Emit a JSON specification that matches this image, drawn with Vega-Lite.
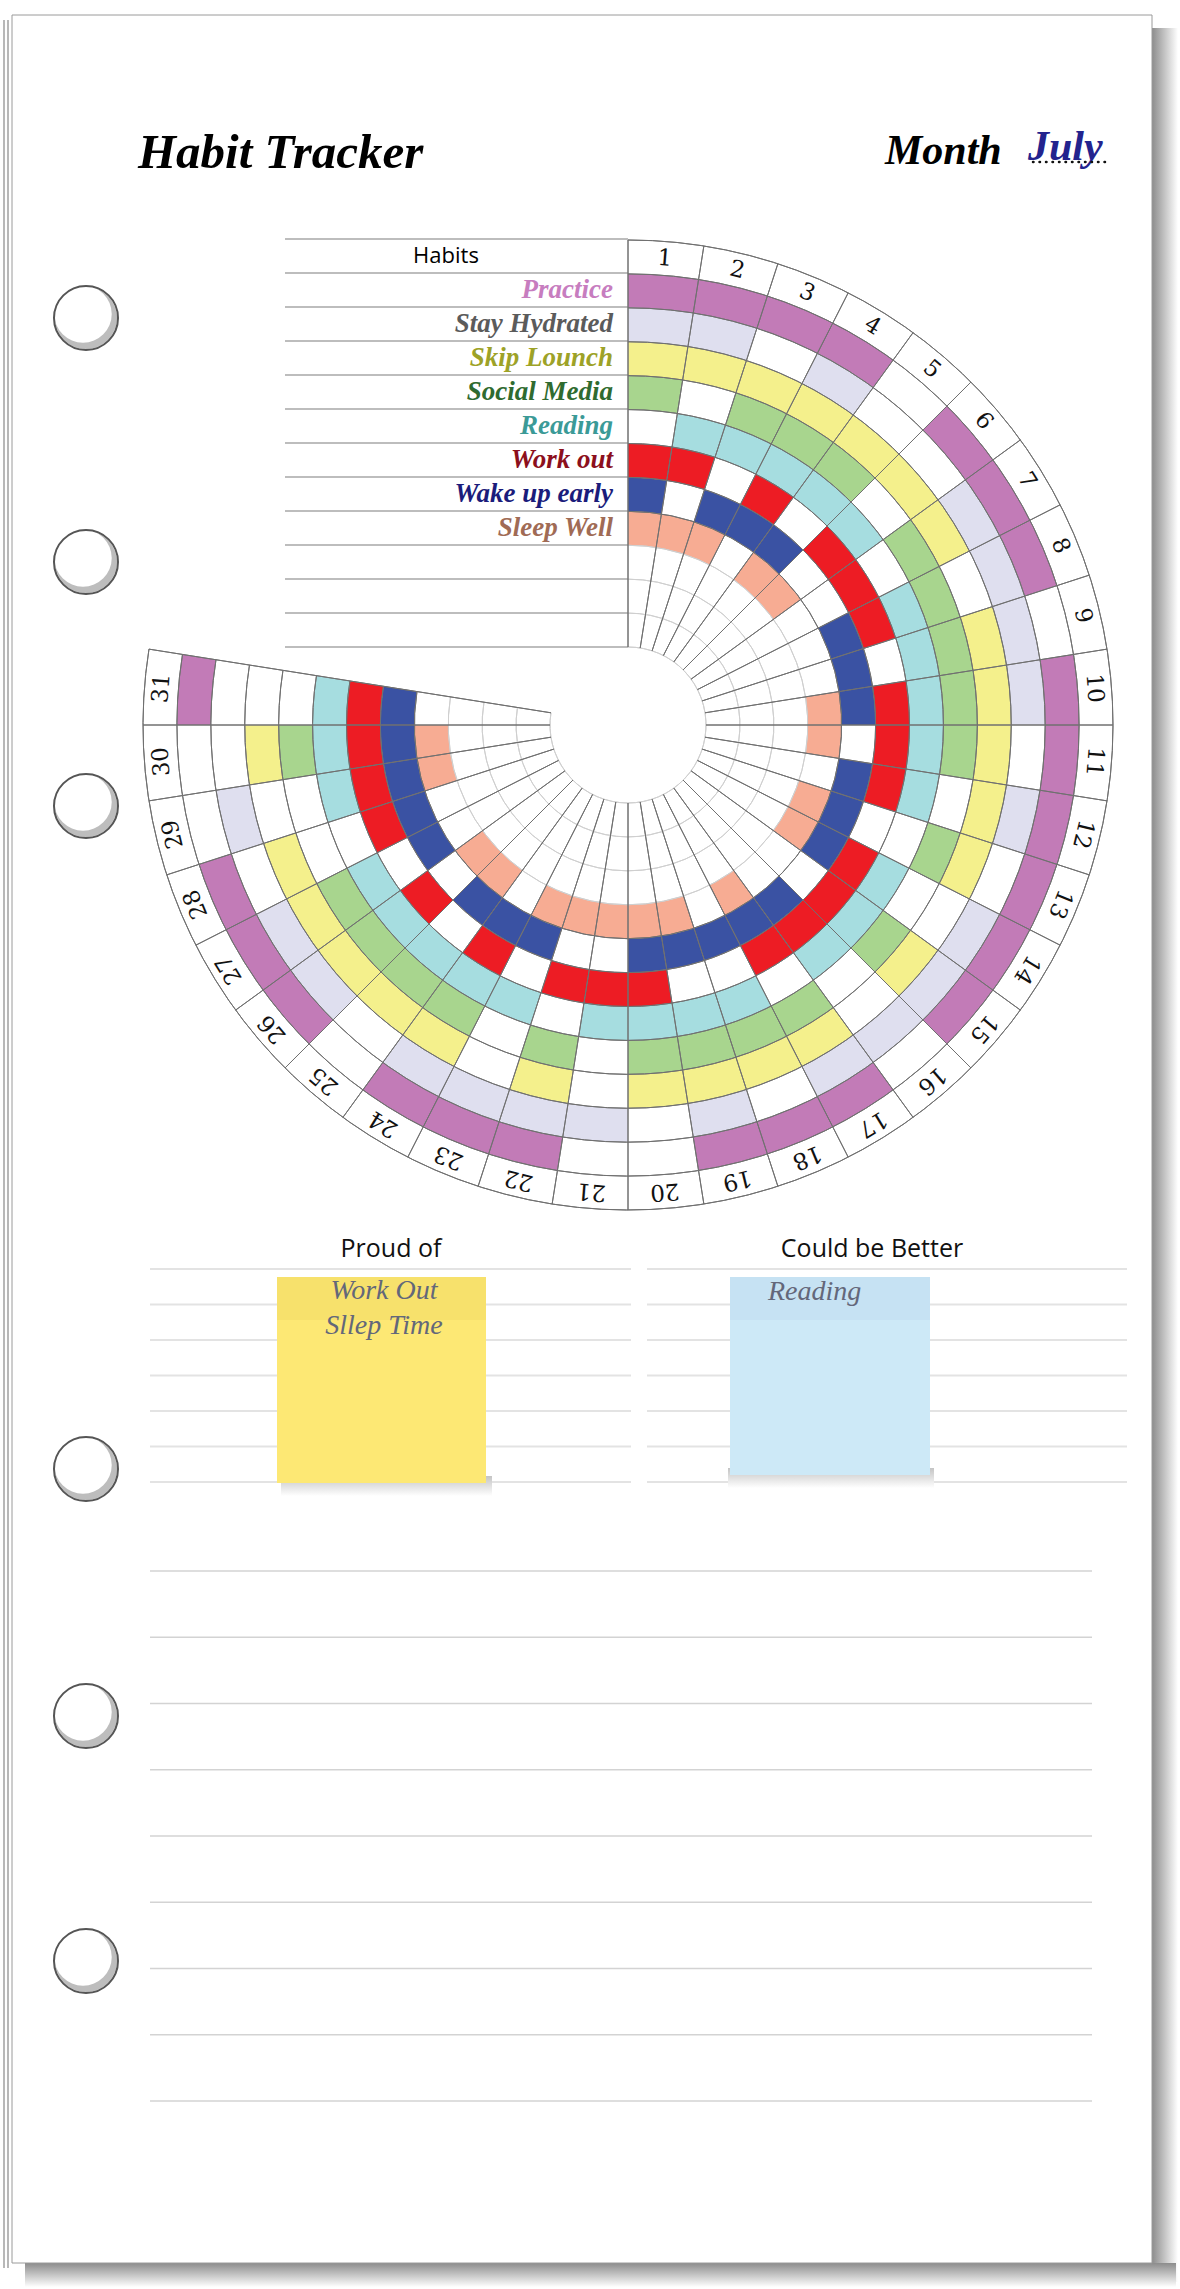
{
"$schema":"https://vega.github.io/schema/vega-lite/v6.json",
"width":1180,"height":2289,"padding":0,
"autosize":{"type":"fit","contains":"padding"},
"background":"#ffffff",
"config":{"view":{"stroke":null}},
"resolve":{"scale":{"x":"independent","y":"independent","theta":"independent","radius":"independent","color":"independent","angle":"independent"}},
"datasets":{
"habits":[{"habit":"Practice","order":1},{"habit":"Stay Hydrated","order":2},{"habit":"Skip Lounch","order":3},{"habit":"Social Media","order":4},{"habit":"Reading","order":5},{"habit":"Work out","order":6},{"habit":"Wake up early","order":7},{"habit":"Sleep Well","order":8}],
"circles":[{"edge":0},{"edge":1},{"edge":2},{"edge":3},{"edge":4},{"edge":5},{"edge":6},{"edge":7},{"edge":8},{"edge":9},{"edge":10},{"edge":11},{"edge":12}],
"spokes":[{"edge":1},{"edge":2},{"edge":3},{"edge":4},{"edge":5},{"edge":6},{"edge":7},{"edge":8},{"edge":9},{"edge":10},{"edge":11},{"edge":12},{"edge":13},{"edge":14},{"edge":15},{"edge":16},{"edge":17},{"edge":18},{"edge":19},{"edge":20},{"edge":21},{"edge":22},{"edge":23},{"edge":24},{"edge":25},{"edge":26},{"edge":27},{"edge":28},{"edge":29},{"edge":30},{"edge":31},{"edge":32}],
"tableLines":[{"line":0},{"line":1},{"line":2},{"line":3},{"line":4},{"line":5},{"line":6},{"line":7},{"line":8},{"line":9},{"line":10},{"line":11},{"line":12}],
"noteLines":[{"line":1},{"line":2},{"line":3},{"line":4},{"line":5},{"line":6},{"line":7}],
"pageLines":[{"line":1},{"line":2},{"line":3},{"line":4},{"line":5},{"line":6},{"line":7},{"line":8},{"line":9}],
"holes":[{"hole":1},{"hole":2},{"hole":3},{"hole":4},{"hole":5},{"hole":6}],
"cells":[
{"day":1,"habit":"Practice","done":1},{"day":2,"habit":"Practice","done":1},{"day":3,"habit":"Practice","done":1},{"day":4,"habit":"Practice","done":1},{"day":5,"habit":"Practice","done":0},{"day":6,"habit":"Practice","done":1},{"day":7,"habit":"Practice","done":1},{"day":8,"habit":"Practice","done":1},{"day":9,"habit":"Practice","done":0},{"day":10,"habit":"Practice","done":1},{"day":11,"habit":"Practice","done":1},{"day":12,"habit":"Practice","done":1},{"day":13,"habit":"Practice","done":1},{"day":14,"habit":"Practice","done":1},{"day":15,"habit":"Practice","done":1},{"day":16,"habit":"Practice","done":0},{"day":17,"habit":"Practice","done":1},{"day":18,"habit":"Practice","done":1},{"day":19,"habit":"Practice","done":1},{"day":20,"habit":"Practice","done":0},{"day":21,"habit":"Practice","done":0},{"day":22,"habit":"Practice","done":1},{"day":23,"habit":"Practice","done":1},{"day":24,"habit":"Practice","done":1},{"day":25,"habit":"Practice","done":0},{"day":26,"habit":"Practice","done":1},{"day":27,"habit":"Practice","done":1},{"day":28,"habit":"Practice","done":1},{"day":29,"habit":"Practice","done":0},{"day":30,"habit":"Practice","done":0},{"day":31,"habit":"Practice","done":1},
{"day":1,"habit":"Stay Hydrated","done":1},{"day":2,"habit":"Stay Hydrated","done":1},{"day":3,"habit":"Stay Hydrated","done":0},{"day":4,"habit":"Stay Hydrated","done":1},{"day":5,"habit":"Stay Hydrated","done":0},{"day":6,"habit":"Stay Hydrated","done":0},{"day":7,"habit":"Stay Hydrated","done":1},{"day":8,"habit":"Stay Hydrated","done":1},{"day":9,"habit":"Stay Hydrated","done":1},{"day":10,"habit":"Stay Hydrated","done":1},{"day":11,"habit":"Stay Hydrated","done":0},{"day":12,"habit":"Stay Hydrated","done":1},{"day":13,"habit":"Stay Hydrated","done":0},{"day":14,"habit":"Stay Hydrated","done":1},{"day":15,"habit":"Stay Hydrated","done":1},{"day":16,"habit":"Stay Hydrated","done":1},{"day":17,"habit":"Stay Hydrated","done":1},{"day":18,"habit":"Stay Hydrated","done":0},{"day":19,"habit":"Stay Hydrated","done":1},{"day":20,"habit":"Stay Hydrated","done":0},{"day":21,"habit":"Stay Hydrated","done":1},{"day":22,"habit":"Stay Hydrated","done":1},{"day":23,"habit":"Stay Hydrated","done":1},{"day":24,"habit":"Stay Hydrated","done":1},{"day":25,"habit":"Stay Hydrated","done":0},{"day":26,"habit":"Stay Hydrated","done":1},{"day":27,"habit":"Stay Hydrated","done":1},{"day":28,"habit":"Stay Hydrated","done":0},{"day":29,"habit":"Stay Hydrated","done":1},{"day":30,"habit":"Stay Hydrated","done":0},{"day":31,"habit":"Stay Hydrated","done":0},
{"day":1,"habit":"Skip Lounch","done":1},{"day":2,"habit":"Skip Lounch","done":1},{"day":3,"habit":"Skip Lounch","done":1},{"day":4,"habit":"Skip Lounch","done":1},{"day":5,"habit":"Skip Lounch","done":1},{"day":6,"habit":"Skip Lounch","done":1},{"day":7,"habit":"Skip Lounch","done":1},{"day":8,"habit":"Skip Lounch","done":0},{"day":9,"habit":"Skip Lounch","done":1},{"day":10,"habit":"Skip Lounch","done":1},{"day":11,"habit":"Skip Lounch","done":1},{"day":12,"habit":"Skip Lounch","done":1},{"day":13,"habit":"Skip Lounch","done":1},{"day":14,"habit":"Skip Lounch","done":0},{"day":15,"habit":"Skip Lounch","done":1},{"day":16,"habit":"Skip Lounch","done":0},{"day":17,"habit":"Skip Lounch","done":1},{"day":18,"habit":"Skip Lounch","done":1},{"day":19,"habit":"Skip Lounch","done":1},{"day":20,"habit":"Skip Lounch","done":1},{"day":21,"habit":"Skip Lounch","done":0},{"day":22,"habit":"Skip Lounch","done":1},{"day":23,"habit":"Skip Lounch","done":0},{"day":24,"habit":"Skip Lounch","done":1},{"day":25,"habit":"Skip Lounch","done":1},{"day":26,"habit":"Skip Lounch","done":1},{"day":27,"habit":"Skip Lounch","done":1},{"day":28,"habit":"Skip Lounch","done":1},{"day":29,"habit":"Skip Lounch","done":0},{"day":30,"habit":"Skip Lounch","done":1},{"day":31,"habit":"Skip Lounch","done":0},
{"day":1,"habit":"Social Media","done":1},{"day":2,"habit":"Social Media","done":0},{"day":3,"habit":"Social Media","done":1},{"day":4,"habit":"Social Media","done":1},{"day":5,"habit":"Social Media","done":1},{"day":6,"habit":"Social Media","done":0},{"day":7,"habit":"Social Media","done":1},{"day":8,"habit":"Social Media","done":1},{"day":9,"habit":"Social Media","done":1},{"day":10,"habit":"Social Media","done":1},{"day":11,"habit":"Social Media","done":1},{"day":12,"habit":"Social Media","done":0},{"day":13,"habit":"Social Media","done":1},{"day":14,"habit":"Social Media","done":0},{"day":15,"habit":"Social Media","done":1},{"day":16,"habit":"Social Media","done":0},{"day":17,"habit":"Social Media","done":1},{"day":18,"habit":"Social Media","done":1},{"day":19,"habit":"Social Media","done":1},{"day":20,"habit":"Social Media","done":1},{"day":21,"habit":"Social Media","done":0},{"day":22,"habit":"Social Media","done":1},{"day":23,"habit":"Social Media","done":0},{"day":24,"habit":"Social Media","done":1},{"day":25,"habit":"Social Media","done":1},{"day":26,"habit":"Social Media","done":1},{"day":27,"habit":"Social Media","done":1},{"day":28,"habit":"Social Media","done":0},{"day":29,"habit":"Social Media","done":0},{"day":30,"habit":"Social Media","done":1},{"day":31,"habit":"Social Media","done":0},
{"day":1,"habit":"Reading","done":0},{"day":2,"habit":"Reading","done":1},{"day":3,"habit":"Reading","done":1},{"day":4,"habit":"Reading","done":1},{"day":5,"habit":"Reading","done":1},{"day":6,"habit":"Reading","done":1},{"day":7,"habit":"Reading","done":0},{"day":8,"habit":"Reading","done":1},{"day":9,"habit":"Reading","done":1},{"day":10,"habit":"Reading","done":1},{"day":11,"habit":"Reading","done":1},{"day":12,"habit":"Reading","done":1},{"day":13,"habit":"Reading","done":0},{"day":14,"habit":"Reading","done":1},{"day":15,"habit":"Reading","done":1},{"day":16,"habit":"Reading","done":1},{"day":17,"habit":"Reading","done":0},{"day":18,"habit":"Reading","done":1},{"day":19,"habit":"Reading","done":1},{"day":20,"habit":"Reading","done":1},{"day":21,"habit":"Reading","done":1},{"day":22,"habit":"Reading","done":0},{"day":23,"habit":"Reading","done":1},{"day":24,"habit":"Reading","done":1},{"day":25,"habit":"Reading","done":1},{"day":26,"habit":"Reading","done":1},{"day":27,"habit":"Reading","done":1},{"day":28,"habit":"Reading","done":0},{"day":29,"habit":"Reading","done":1},{"day":30,"habit":"Reading","done":1},{"day":31,"habit":"Reading","done":1},
{"day":1,"habit":"Work out","done":1},{"day":2,"habit":"Work out","done":1},{"day":3,"habit":"Work out","done":0},{"day":4,"habit":"Work out","done":1},{"day":5,"habit":"Work out","done":0},{"day":6,"habit":"Work out","done":1},{"day":7,"habit":"Work out","done":1},{"day":8,"habit":"Work out","done":1},{"day":9,"habit":"Work out","done":0},{"day":10,"habit":"Work out","done":1},{"day":11,"habit":"Work out","done":1},{"day":12,"habit":"Work out","done":1},{"day":13,"habit":"Work out","done":0},{"day":14,"habit":"Work out","done":1},{"day":15,"habit":"Work out","done":1},{"day":16,"habit":"Work out","done":1},{"day":17,"habit":"Work out","done":1},{"day":18,"habit":"Work out","done":0},{"day":19,"habit":"Work out","done":0},{"day":20,"habit":"Work out","done":1},{"day":21,"habit":"Work out","done":1},{"day":22,"habit":"Work out","done":1},{"day":23,"habit":"Work out","done":0},{"day":24,"habit":"Work out","done":1},{"day":25,"habit":"Work out","done":0},{"day":26,"habit":"Work out","done":1},{"day":27,"habit":"Work out","done":0},{"day":28,"habit":"Work out","done":1},{"day":29,"habit":"Work out","done":1},{"day":30,"habit":"Work out","done":1},{"day":31,"habit":"Work out","done":1},
{"day":1,"habit":"Wake up early","done":1},{"day":2,"habit":"Wake up early","done":0},{"day":3,"habit":"Wake up early","done":1},{"day":4,"habit":"Wake up early","done":1},{"day":5,"habit":"Wake up early","done":1},{"day":6,"habit":"Wake up early","done":0},{"day":7,"habit":"Wake up early","done":0},{"day":8,"habit":"Wake up early","done":1},{"day":9,"habit":"Wake up early","done":1},{"day":10,"habit":"Wake up early","done":1},{"day":11,"habit":"Wake up early","done":0},{"day":12,"habit":"Wake up early","done":1},{"day":13,"habit":"Wake up early","done":1},{"day":14,"habit":"Wake up early","done":1},{"day":15,"habit":"Wake up early","done":0},{"day":16,"habit":"Wake up early","done":1},{"day":17,"habit":"Wake up early","done":1},{"day":18,"habit":"Wake up early","done":1},{"day":19,"habit":"Wake up early","done":1},{"day":20,"habit":"Wake up early","done":1},{"day":21,"habit":"Wake up early","done":0},{"day":22,"habit":"Wake up early","done":0},{"day":23,"habit":"Wake up early","done":1},{"day":24,"habit":"Wake up early","done":1},{"day":25,"habit":"Wake up early","done":1},{"day":26,"habit":"Wake up early","done":0},{"day":27,"habit":"Wake up early","done":1},{"day":28,"habit":"Wake up early","done":1},{"day":29,"habit":"Wake up early","done":1},{"day":30,"habit":"Wake up early","done":1},{"day":31,"habit":"Wake up early","done":1},
{"day":1,"habit":"Sleep Well","done":1},{"day":2,"habit":"Sleep Well","done":1},{"day":3,"habit":"Sleep Well","done":1},{"day":4,"habit":"Sleep Well","done":0},{"day":5,"habit":"Sleep Well","done":1},{"day":6,"habit":"Sleep Well","done":1},{"day":7,"habit":"Sleep Well","done":0},{"day":8,"habit":"Sleep Well","done":0},{"day":9,"habit":"Sleep Well","done":0},{"day":10,"habit":"Sleep Well","done":1},{"day":11,"habit":"Sleep Well","done":1},{"day":12,"habit":"Sleep Well","done":0},{"day":13,"habit":"Sleep Well","done":1},{"day":14,"habit":"Sleep Well","done":1},{"day":15,"habit":"Sleep Well","done":0},{"day":16,"habit":"Sleep Well","done":0},{"day":17,"habit":"Sleep Well","done":1},{"day":18,"habit":"Sleep Well","done":0},{"day":19,"habit":"Sleep Well","done":1},{"day":20,"habit":"Sleep Well","done":1},{"day":21,"habit":"Sleep Well","done":1},{"day":22,"habit":"Sleep Well","done":1},{"day":23,"habit":"Sleep Well","done":1},{"day":24,"habit":"Sleep Well","done":0},{"day":25,"habit":"Sleep Well","done":1},{"day":26,"habit":"Sleep Well","done":1},{"day":27,"habit":"Sleep Well","done":0},{"day":28,"habit":"Sleep Well","done":0},{"day":29,"habit":"Sleep Well","done":1},{"day":30,"habit":"Sleep Well","done":1},{"day":31,"habit":"Sleep Well","done":0}
]},
"layer":[
{"data":{"values":[{}]},"mark":{"type":"rect","color":{"gradient":"linear","x1":0,"x2":1,"y1":0,"y2":0,"stops":[{"offset":0,"color":"#8c8c8c"},{"offset":1,"color":"#ffffff"}]}},
 "encoding":{"x":{"datum":1152,"type":"quantitative","scale":{"domain":[0,1180],"range":[0,1180],"nice":false,"zero":false},"axis":null},"x2":{"datum":1178},"y":{"datum":28,"type":"quantitative","scale":{"domain":[0,2289],"range":[0,2289],"nice":false,"zero":false},"axis":null},"y2":{"datum":2282}}},
{"data":{"values":[{}]},"mark":{"type":"rect","color":{"gradient":"linear","x1":0,"x2":0,"y1":0,"y2":1,"stops":[{"offset":0,"color":"#8c8c8c"},{"offset":1,"color":"#ffffff"}]}},
 "encoding":{"x":{"datum":25,"type":"quantitative","scale":{"domain":[0,1180],"range":[0,1180],"nice":false,"zero":false},"axis":null},"x2":{"datum":1176},"y":{"datum":2263,"type":"quantitative","scale":{"domain":[0,2289],"range":[0,2289],"nice":false,"zero":false},"axis":null},"y2":{"datum":2287}}},
{"data":{"values":[{}]},"mark":{"type":"rect","fill":"#ffffff","stroke":"#9a9a9a","strokeWidth":1},
 "encoding":{"x":{"datum":12,"type":"quantitative","scale":{"domain":[0,1180],"range":[0,1180],"nice":false,"zero":false},"axis":null},"x2":{"datum":1152},"y":{"datum":15,"type":"quantitative","scale":{"domain":[0,2289],"range":[0,2289],"nice":false,"zero":false},"axis":null},"y2":{"datum":2263}}},
{"data":{"values":[{"sheet":1},{"sheet":2}]},"mark":{"type":"rule","stroke":"#a0a0a0","strokeWidth":1.5},
 "encoding":{"x":{"field":"sheet","type":"quantitative","scale":{"domain":[1,2],"range":[4,8],"nice":false,"zero":false},"axis":null},"y":{"datum":20,"type":"quantitative","scale":{"domain":[0,2289],"range":[0,2289],"nice":false,"zero":false},"axis":null},"y2":{"datum":2268}}},
{"data":{"values":[{"label":"Habit Tracker"}]},"mark":{"type":"text","align":"left","baseline":"alphabetic","font":"Liberation Serif","fontStyle":"italic","fontWeight":"bold","fontSize":49,"color":"#000000"},
 "encoding":{"text":{"field":"label"},"x":{"datum":138,"type":"quantitative","scale":{"domain":[0,1180],"range":[0,1180],"nice":false,"zero":false},"axis":null},"y":{"datum":168,"type":"quantitative","scale":{"domain":[0,2289],"range":[0,2289],"nice":false,"zero":false},"axis":null}}},
{"data":{"values":[{"label":"Month"}]},"mark":{"type":"text","align":"left","baseline":"alphabetic","font":"Liberation Serif","fontStyle":"italic","fontWeight":"bold","fontSize":42,"color":"#000000"},
 "encoding":{"text":{"field":"label"},"x":{"datum":885,"type":"quantitative","scale":{"domain":[0,1180],"range":[0,1180],"nice":false,"zero":false},"axis":null},"y":{"datum":164,"type":"quantitative","scale":{"domain":[0,2289],"range":[0,2289],"nice":false,"zero":false},"axis":null}}},
{"data":{"values":[{"label":"July"}]},"mark":{"type":"text","align":"left","baseline":"alphabetic","font":"Liberation Serif","fontStyle":"italic","fontWeight":"bold","fontSize":42,"color":"#23238e"},
 "encoding":{"text":{"field":"label"},"x":{"datum":1028,"type":"quantitative","scale":{"domain":[0,1180],"range":[0,1180],"nice":false,"zero":false},"axis":null},"y":{"datum":160,"type":"quantitative","scale":{"domain":[0,2289],"range":[0,2289],"nice":false,"zero":false},"axis":null}}},
{"data":{"values":[{}]},"mark":{"type":"rule","stroke":"#111111","strokeWidth":2.5,"strokeDash":[0.5,6],"strokeCap":"round"},
 "encoding":{"x":{"datum":1033,"type":"quantitative","scale":{"domain":[0,1180],"range":[0,1180],"nice":false,"zero":false},"axis":null},"x2":{"datum":1110},"y":{"datum":162,"type":"quantitative","scale":{"domain":[0,2289],"range":[0,2289],"nice":false,"zero":false},"axis":null}}},
{"data":{"name":"tableLines"},"mark":{"type":"rule","stroke":"#7d7d7d","strokeWidth":1.2},
 "encoding":{"x":{"datum":285,"type":"quantitative","scale":{"domain":[0,1180],"range":[0,1180],"nice":false,"zero":false},"axis":null},"x2":{"datum":628},"y":{"field":"line","type":"quantitative","scale":{"domain":[0,12],"range":[239,647],"nice":false,"zero":false},"axis":null}}},
{"data":{"values":[{"label":"Habits"}]},"mark":{"type":"text","align":"center","baseline":"middle","font":"Open Sans","fontSize":22,"color":"#000000"},
 "encoding":{"text":{"field":"label"},"x":{"datum":446,"type":"quantitative","scale":{"domain":[0,1180],"range":[0,1180],"nice":false,"zero":false},"axis":null},"y":{"datum":256,"type":"quantitative","scale":{"domain":[0,2289],"range":[0,2289],"nice":false,"zero":false},"axis":null}}},
{"data":{"name":"habits"},"mark":{"type":"text","align":"right","baseline":"middle","font":"Liberation Serif","fontStyle":"italic","fontWeight":"bold","fontSize":27},
 "encoding":{"text":{"field":"habit"},"x":{"datum":613,"type":"quantitative","scale":{"domain":[0,1180],"range":[0,1180],"nice":false,"zero":false},"axis":null},"y":{"field":"order","type":"quantitative","scale":{"domain":[-0.5,11.5],"range":[239,647],"nice":false,"zero":false},"axis":null},
 "color":{"field":"habit","type":"nominal","legend":null,"scale":{"domain":["Practice","Stay Hydrated","Skip Lounch","Social Media","Reading","Work out","Wake up early","Sleep Well"],"range":["#c77dbf","#5b5b5b","#9da227","#2f6b30","#3b9a97","#8c0f1c","#1b1c7b","#a06b55"]}}}},
{"data":{"name":"cells"},"transform":[{"filter":"datum.done == 1"},{"lookup":"habit","from":{"data":{"name":"habits"},"key":"habit","fields":["order"]}}],
 "mark":{"type":"arc","theta2Offset":0.15708,"radius2Offset":-33.92},
 "encoding":{"x":{"datum":628,"type":"quantitative","scale":{"domain":[0,1180],"range":[0,1180],"nice":false,"zero":false},"axis":null},"y":{"datum":725,"type":"quantitative","scale":{"domain":[0,2289],"range":[0,2289],"nice":false,"zero":false},"axis":null},
 "theta":{"field":"day","type":"quantitative","stack":null,"scale":{"domain":[1,41],"range":[0,6.283185],"nice":false,"zero":false}},"theta2":{"field":"day"},
 "radius":{"field":"order","type":"quantitative","scale":{"type":"linear","domain":[0,12],"range":[485,78],"nice":false,"zero":false}},"radius2":{"field":"order"},
 "color":{"field":"habit","type":"nominal","legend":null,"scale":{"domain":["Practice","Stay Hydrated","Skip Lounch","Social Media","Reading","Work out","Wake up early","Sleep Well"],"range":["#c27bb7","#dfdfef","#f4f08c","#a8d58e","#a6dde0","#ed1c24","#3a52a3","#f7ac93"]}}}},
{"data":{"name":"circles"},"mark":{"type":"arc","fillOpacity":0,"strokeWidth":1},
 "encoding":{"x":{"datum":628,"type":"quantitative","scale":{"domain":[0,1180],"range":[0,1180],"nice":false,"zero":false},"axis":null},"y":{"datum":725,"type":"quantitative","scale":{"domain":[0,2289],"range":[0,2289],"nice":false,"zero":false},"axis":null},
 "theta":{"datum":1,"type":"quantitative","scale":{"domain":[1,41],"range":[0,6.283185],"nice":false,"zero":false}},"theta2":{"datum":32},
 "radius":{"field":"edge","type":"quantitative","scale":{"type":"linear","domain":[0,12],"range":[485,78],"nice":false,"zero":false}},"radius2":{"field":"edge"},
 "stroke":{"condition":{"test":"datum.edge >= 9","value":"#cfcfcf"},"value":"#707070"}}},
{"data":{"name":"spokes"},"mark":{"type":"arc","fillOpacity":0,"stroke":"#707070","strokeWidth":1},
 "encoding":{"x":{"datum":628,"type":"quantitative","scale":{"domain":[0,1180],"range":[0,1180],"nice":false,"zero":false},"axis":null},"y":{"datum":725,"type":"quantitative","scale":{"domain":[0,2289],"range":[0,2289],"nice":false,"zero":false},"axis":null},
 "theta":{"field":"edge","type":"quantitative","stack":null,"scale":{"domain":[1,41],"range":[0,6.283185],"nice":false,"zero":false}},"theta2":{"field":"edge"},
 "radius":{"datum":0,"type":"quantitative","scale":{"type":"linear","domain":[0,12],"range":[485,78],"nice":false,"zero":false}},"radius2":{"datum":12}}},
{"data":{"name":"cells"},"transform":[{"filter":"datum.habit == 'Practice'"}],
 "mark":{"type":"text","align":"center","baseline":"middle","font":"DejaVu Serif","fontSize":23,"color":"#111111"},
 "encoding":{"x":{"datum":628,"type":"quantitative","scale":{"domain":[0,1180],"range":[0,1180],"nice":false,"zero":false},"axis":null},"y":{"datum":725,"type":"quantitative","scale":{"domain":[0,2289],"range":[0,2289],"nice":false,"zero":false},"axis":null},
 "text":{"field":"day","type":"nominal"},
 "theta":{"field":"day","type":"quantitative","stack":null,"scale":{"domain":[0.5,40.5],"range":[0,6.283185],"nice":false,"zero":false}},
 "radius":{"datum":0.5,"type":"quantitative","scale":{"type":"linear","domain":[0,12],"range":[485,78],"nice":false,"zero":false}},
 "angle":{"field":"day","type":"quantitative","scale":{"domain":[0.5,40.5],"range":[0,360],"nice":false,"zero":false}}}},
{"data":{"values":[{"label":"Proud of"}]},"mark":{"type":"text","align":"center","baseline":"middle","font":"Open Sans","fontSize":25,"color":"#111111"},
 "encoding":{"text":{"field":"label"},"x":{"datum":391,"type":"quantitative","scale":{"domain":[0,1180],"range":[0,1180],"nice":false,"zero":false},"axis":null},"y":{"datum":1249,"type":"quantitative","scale":{"domain":[0,2289],"range":[0,2289],"nice":false,"zero":false},"axis":null}}},
{"data":{"values":[{"label":"Could be Better"}]},"mark":{"type":"text","align":"center","baseline":"middle","font":"Open Sans","fontSize":25,"color":"#111111"},
 "encoding":{"text":{"field":"label"},"x":{"datum":872,"type":"quantitative","scale":{"domain":[0,1180],"range":[0,1180],"nice":false,"zero":false},"axis":null},"y":{"datum":1249,"type":"quantitative","scale":{"domain":[0,2289],"range":[0,2289],"nice":false,"zero":false},"axis":null}}},
{"data":{"name":"noteLines"},"mark":{"type":"rule","stroke":"#e3e3e3","strokeWidth":2},
 "encoding":{"x":{"datum":150,"type":"quantitative","scale":{"domain":[0,1180],"range":[0,1180],"nice":false,"zero":false},"axis":null},"x2":{"datum":631},"y":{"field":"line","type":"quantitative","scale":{"domain":[1,7],"range":[1269,1482],"nice":false,"zero":false},"axis":null}}},
{"data":{"name":"noteLines"},"mark":{"type":"rule","stroke":"#e3e3e3","strokeWidth":2},
 "encoding":{"x":{"datum":647,"type":"quantitative","scale":{"domain":[0,1180],"range":[0,1180],"nice":false,"zero":false},"axis":null},"x2":{"datum":1127},"y":{"field":"line","type":"quantitative","scale":{"domain":[1,7],"range":[1269,1482],"nice":false,"zero":false},"axis":null}}},
{"data":{"values":[{}]},"mark":{"type":"rect","color":{"gradient":"linear","x1":0,"x2":0,"y1":0,"y2":1,"stops":[{"offset":0,"color":"#c4c4c4"},{"offset":1,"color":"#ffffff"}]}},
 "encoding":{"x":{"datum":281,"type":"quantitative","scale":{"domain":[0,1180],"range":[0,1180],"nice":false,"zero":false},"axis":null},"x2":{"datum":492},"y":{"datum":1476,"type":"quantitative","scale":{"domain":[0,2289],"range":[0,2289],"nice":false,"zero":false},"axis":null},"y2":{"datum":1496}}},
{"data":{"values":[{}]},"mark":{"type":"rect","color":{"gradient":"linear","x1":0,"x2":0,"y1":0,"y2":1,"stops":[{"offset":0,"color":"#c4c4c4"},{"offset":1,"color":"#ffffff"}]}},
 "encoding":{"x":{"datum":728,"type":"quantitative","scale":{"domain":[0,1180],"range":[0,1180],"nice":false,"zero":false},"axis":null},"x2":{"datum":934},"y":{"datum":1468,"type":"quantitative","scale":{"domain":[0,2289],"range":[0,2289],"nice":false,"zero":false},"axis":null},"y2":{"datum":1488}}},
{"data":{"values":[{}]},"mark":{"type":"rect","fill":"#fde874"},
 "encoding":{"x":{"datum":277,"type":"quantitative","scale":{"domain":[0,1180],"range":[0,1180],"nice":false,"zero":false},"axis":null},"x2":{"datum":486},"y":{"datum":1277,"type":"quantitative","scale":{"domain":[0,2289],"range":[0,2289],"nice":false,"zero":false},"axis":null},"y2":{"datum":1483}}},
{"data":{"values":[{}]},"mark":{"type":"rect","fill":"#f7e16c"},
 "encoding":{"x":{"datum":277,"type":"quantitative","scale":{"domain":[0,1180],"range":[0,1180],"nice":false,"zero":false},"axis":null},"x2":{"datum":486},"y":{"datum":1277,"type":"quantitative","scale":{"domain":[0,2289],"range":[0,2289],"nice":false,"zero":false},"axis":null},"y2":{"datum":1320}}},
{"data":{"values":[{}]},"mark":{"type":"rect","fill":"#cde9f7"},
 "encoding":{"x":{"datum":730,"type":"quantitative","scale":{"domain":[0,1180],"range":[0,1180],"nice":false,"zero":false},"axis":null},"x2":{"datum":930},"y":{"datum":1277,"type":"quantitative","scale":{"domain":[0,2289],"range":[0,2289],"nice":false,"zero":false},"axis":null},"y2":{"datum":1475}}},
{"data":{"values":[{}]},"mark":{"type":"rect","fill":"#c6e2f3"},
 "encoding":{"x":{"datum":730,"type":"quantitative","scale":{"domain":[0,1180],"range":[0,1180],"nice":false,"zero":false},"axis":null},"x2":{"datum":930},"y":{"datum":1277,"type":"quantitative","scale":{"domain":[0,2289],"range":[0,2289],"nice":false,"zero":false},"axis":null},"y2":{"datum":1320}}},
{"data":{"values":[{"label":"Work Out","line":1},{"label":"Sllep Time","line":2}]},"mark":{"type":"text","align":"center","baseline":"middle","font":"Liberation Serif","fontStyle":"italic","fontSize":28,"color":"#63677a"},
 "encoding":{"text":{"field":"label"},"x":{"datum":384,"type":"quantitative","scale":{"domain":[0,1180],"range":[0,1180],"nice":false,"zero":false},"axis":null},"y":{"field":"line","type":"quantitative","scale":{"domain":[1,2],"range":[1291,1326],"nice":false,"zero":false},"axis":null}}},
{"data":{"values":[{"label":"Reading"}]},"mark":{"type":"text","align":"left","baseline":"middle","font":"Liberation Serif","fontStyle":"italic","fontSize":28,"color":"#63677a"},
 "encoding":{"text":{"field":"label"},"x":{"datum":768,"type":"quantitative","scale":{"domain":[0,1180],"range":[0,1180],"nice":false,"zero":false},"axis":null},"y":{"datum":1292,"type":"quantitative","scale":{"domain":[0,2289],"range":[0,2289],"nice":false,"zero":false},"axis":null}}},
{"data":{"name":"pageLines"},"mark":{"type":"rule","stroke":"#d3d3d3","strokeWidth":1.5},
 "encoding":{"x":{"datum":150,"type":"quantitative","scale":{"domain":[0,1180],"range":[0,1180],"nice":false,"zero":false},"axis":null},"x2":{"datum":1092},"y":{"field":"line","type":"quantitative","scale":{"domain":[1,9],"range":[1571,2101],"nice":false,"zero":false},"axis":null}}},
{"data":{"name":"holes"},"mark":{"type":"point","shape":"circle","filled":true,"fill":"#bdbdbd","opacity":1,"size":3844,"strokeWidth":0},
 "encoding":{"x":{"datum":86,"type":"quantitative","scale":{"domain":[0,1180],"range":[0,1180],"nice":false,"zero":false},"axis":null},"y":{"field":"hole","type":"quantitative","scale":{"domain":[1,2,3,4,5,6],"range":[318,562,806,1469,1716,1961],"nice":false,"zero":false},"axis":null}}},
{"data":{"name":"holes"},"mark":{"type":"point","shape":"circle","filled":true,"fill":"#ffffff","opacity":1,"size":3300,"strokeWidth":0,"xOffset":-3,"yOffset":-4},
 "encoding":{"x":{"datum":86,"type":"quantitative","scale":{"domain":[0,1180],"range":[0,1180],"nice":false,"zero":false},"axis":null},"y":{"field":"hole","type":"quantitative","scale":{"domain":[1,2,3,4,5,6],"range":[318,562,806,1469,1716,1961],"nice":false,"zero":false},"axis":null}}},
{"data":{"name":"holes"},"mark":{"type":"point","shape":"circle","filled":false,"stroke":"#555555","opacity":1,"strokeWidth":2,"size":4096},
 "encoding":{"x":{"datum":86,"type":"quantitative","scale":{"domain":[0,1180],"range":[0,1180],"nice":false,"zero":false},"axis":null},"y":{"field":"hole","type":"quantitative","scale":{"domain":[1,2,3,4,5,6],"range":[318,562,806,1469,1716,1961],"nice":false,"zero":false},"axis":null}}}
]
}
